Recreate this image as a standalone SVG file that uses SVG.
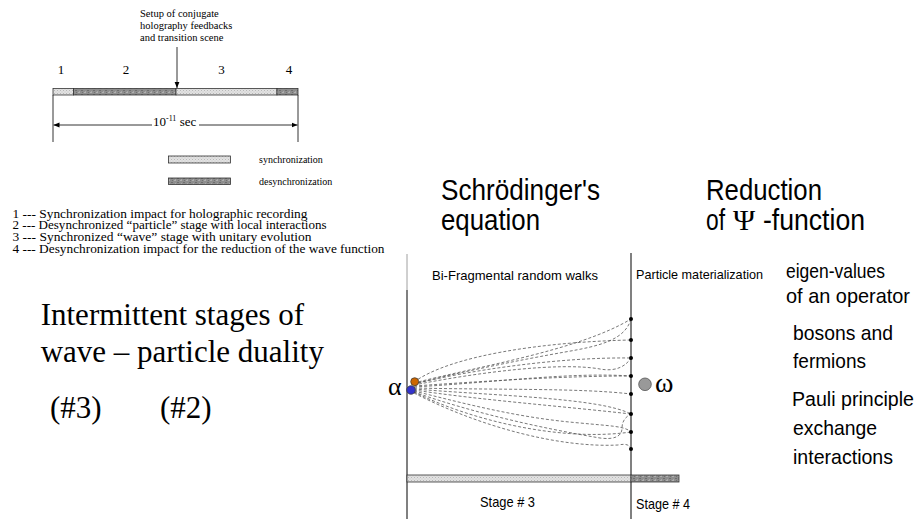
<svg xmlns="http://www.w3.org/2000/svg" width="918" height="519" viewBox="0 0 918 519">
<style>
.serif{font-family:"Liberation Serif","Times New Roman",serif;fill:#000}
.sans{font-family:"Liberation Sans Narrow","Liberation Sans",Arial,sans-serif;fill:#000}
.walk{fill:none;stroke:#555;stroke-width:0.8;stroke-dasharray:3 2}
.bar{stroke:#333;stroke-width:0.8}
.dot{fill:#000}
.ln{stroke:#000;stroke-width:0.8;fill:none}
</style>
<defs>
<pattern id="lt" width="3" height="3" patternUnits="userSpaceOnUse">
<rect width="3" height="3" fill="#e2e2e2"/>
<rect x="0" y="0" width="1" height="1" fill="#b8b8b8"/>
<rect x="1.5" y="1.5" width="1" height="1" fill="#c8c8c8"/>
</pattern>
<pattern id="dk" width="6" height="4" patternUnits="userSpaceOnUse">
<rect width="6" height="4" fill="#8e8e8e"/>
<rect x="0" y="0" width="2" height="1" fill="#b0b0b0"/>
<rect x="3" y="2" width="2" height="1" fill="#6e6e6e"/>
<rect x="4" y="0" width="1" height="1" fill="#707070"/>
<rect x="1" y="3" width="1" height="1" fill="#a8a8a8"/>
</pattern>
<marker id="ah" viewBox="0 0 10 10" refX="10" refY="5" markerWidth="6" markerHeight="6" orient="auto-start-reverse" markerUnits="userSpaceOnUse">
<path d="M0,1 L10,5 L0,9 z" fill="#000"/>
</marker>
</defs>

<!-- Timeline -->
<g id="timeline">
<text class="serif" font-size="10.5" x="140" y="17">Setup of conjugate</text>
<text class="serif" font-size="10.5" x="140" y="29">holography feedbacks</text>
<text class="serif" font-size="10.5" x="140" y="41">and transition scene</text>
<text class="serif" font-size="13" x="61" y="74" text-anchor="middle">1</text>
<text class="serif" font-size="13" x="126" y="74" text-anchor="middle">2</text>
<text class="serif" font-size="13" x="221.5" y="74" text-anchor="middle">3</text>
<text class="serif" font-size="13" x="289" y="74" text-anchor="middle">4</text>
<rect class="bar" x="53" y="88.5" width="20.5" height="6.5" fill="url(#lt)"/>
<rect class="bar" x="73.5" y="88.5" width="102.5" height="6.5" fill="url(#dk)"/>
<rect class="bar" x="176" y="88.5" width="101" height="6.5" fill="url(#lt)"/>
<rect class="bar" x="277" y="88.5" width="21" height="6.5" fill="url(#dk)"/>
<line class="ln" x1="53" y1="95" x2="53" y2="142"/>
<line class="ln" x1="298" y1="95" x2="298" y2="142"/>
<text class="serif" font-size="13" x="153" y="126">10<tspan font-size="8" dy="-5">-11</tspan><tspan dy="5"> sec</tspan></text>
</g>

<g id="timeline-arrows">
<line class="ln" x1="177" y1="47" x2="177" y2="88" marker-end="url(#ah)"/>
<line class="ln" x1="152" y1="125" x2="53.5" y2="125" marker-end="url(#ah)"/>
<line class="ln" x1="199" y1="125" x2="297.5" y2="125" marker-end="url(#ah)"/>
</g>

<g id="legend">
<rect class="bar" x="168.5" y="156" width="62" height="7" fill="url(#lt)"/>
<rect class="bar" x="168.5" y="178" width="62" height="6.5" fill="url(#dk)"/>
<text class="serif" font-size="10" x="259" y="163">synchronization</text>
<text class="serif" font-size="10" x="259" y="184.5">desynchronization</text>
<text class="serif" font-size="11.5" x="12.5" y="217.5" textLength="295" lengthAdjust="spacingAndGlyphs">1 --- Synchronization impact for holographic recording</text>
<text class="serif" font-size="11.5" x="12.5" y="229.2" textLength="314" lengthAdjust="spacingAndGlyphs">2 --- Desynchronized “particle” stage with local interactions</text>
<text class="serif" font-size="11.5" x="12.5" y="240.9" textLength="299" lengthAdjust="spacingAndGlyphs">3 --- Synchronized “wave” stage with unitary evolution</text>
<text class="serif" font-size="11.5" x="12.5" y="252.6" textLength="372" lengthAdjust="spacingAndGlyphs">4 --- Desynchronization impact for the reduction of the wave function</text>
</g>

<g id="title">
<text class="serif" font-size="31" x="40.7" y="325">Intermittent stages of</text>
<text class="serif" font-size="31" x="40.7" y="362">wave – particle duality</text>
<text class="serif" font-size="31" x="50" y="418">(#3)</text>
<text class="serif" font-size="31" x="160" y="418">(#2)</text>
</g>

<g id="headings">
<text class="sans" font-size="30" x="441" y="200" textLength="159" lengthAdjust="spacingAndGlyphs">Schrödinger's</text>
<text class="sans" font-size="30" x="441" y="230" textLength="99" lengthAdjust="spacingAndGlyphs">equation</text>
<text class="sans" font-size="30" x="706" y="200" textLength="116" lengthAdjust="spacingAndGlyphs">Reduction</text>
<text class="sans" font-size="30" x="706" y="230" textLength="19" lengthAdjust="spacingAndGlyphs">of</text>
<text class="serif" font-size="30" x="733" y="230">Ψ</text>
<text class="sans" font-size="30" x="763" y="230" textLength="102" lengthAdjust="spacingAndGlyphs">-function</text>
</g>

<g id="properties">
<text class="sans" font-size="21" x="786" y="278" textLength="99" lengthAdjust="spacingAndGlyphs">eigen-values</text>
<text class="sans" font-size="21" x="786" y="303" textLength="124" lengthAdjust="spacingAndGlyphs">of an operator</text>
<text class="sans" font-size="21" x="793" y="340" textLength="100" lengthAdjust="spacingAndGlyphs">bosons and</text>
<text class="sans" font-size="21" x="793" y="368" textLength="73" lengthAdjust="spacingAndGlyphs">fermions</text>
<text class="sans" font-size="20" x="792" y="406" textLength="122" lengthAdjust="spacingAndGlyphs">Pauli principle</text>
<text class="sans" font-size="21" x="793" y="435" textLength="84" lengthAdjust="spacingAndGlyphs">exchange</text>
<text class="sans" font-size="21" x="793" y="464" textLength="100" lengthAdjust="spacingAndGlyphs">interactions</text>
</g>

<!-- Walks diagram -->
<g id="frame">
<line x1="407" y1="254" x2="407" y2="290" stroke="#888" stroke-width="0.8"/>
<line x1="407" y1="290" x2="407" y2="519" stroke="#808080" stroke-width="2"/>
<line x1="631" y1="253" x2="631" y2="519" stroke="#808080" stroke-width="2"/>
<text class="sans" font-size="13" x="432" y="280" textLength="166" lengthAdjust="spacingAndGlyphs">Bi-Fragmental random walks</text>
<text class="sans" font-size="13" x="636" y="279" textLength="127" lengthAdjust="spacingAndGlyphs">Particle materialization</text>
<rect class="bar" x="407" y="475" width="224" height="7" fill="url(#lt)"/>
<rect class="bar" x="631" y="475" width="48" height="7" fill="url(#dk)"/>
<text class="sans" font-size="15" x="480" y="507" textLength="55" lengthAdjust="spacingAndGlyphs">Stage # 3</text>
<text class="sans" font-size="15" x="636" y="509" textLength="54" lengthAdjust="spacingAndGlyphs">Stage # 4</text>
</g>

<g id="connectors">
<path class="walk" d="M414,382 C450,356 540,342 631,340"/>
<path class="walk" d="M414,383 C480,366 580,350 631,319"/>
<path class="walk" d="M631,319 C625,340 600,346 565,352 C520,360 460,372 414,384"/>
<path class="walk" d="M414,384 C470,370 560,357 631,358"/>
<path class="walk" d="M414,385 C480,372 560,362 600,369 C616,372 626,366 631,358"/>
<path class="walk" d="M414,386 C500,380 570,376 631,376"/>
<path class="walk" d="M414,387 C500,382 570,372 631,376"/>
<path class="walk" d="M414,388 C500,390 580,388 631,394"/>
<path class="walk" d="M414,389 C500,396 600,398 631,414"/>
<path class="walk" d="M414,390 C480,400 560,406 631,414"/>
<path class="walk" d="M414,391 C470,405 520,418 580,423 C610,426 625,426 631,432"/>
<path class="walk" d="M414,392 C470,420 560,442 631,432"/>
<path class="walk" d="M414,393 C480,427 560,448 618,445 C628,443 630,446 631,449"/>
<path class="walk" d="M414,392 C470,412 540,428 600,438 C615,440 622,436 622,428 C622,420 627,416 631,414"/>
</g>

<g id="dots">
<circle class="dot" cx="631" cy="319" r="2"/>
<circle class="dot" cx="631" cy="340" r="2"/>
<circle class="dot" cx="631" cy="358" r="2"/>
<circle class="dot" cx="631" cy="376" r="2"/>
<circle class="dot" cx="631" cy="394" r="2"/>
<circle class="dot" cx="631" cy="414" r="2"/>
<circle class="dot" cx="631" cy="432" r="2"/>
<circle class="dot" cx="631" cy="449" r="2"/>
</g>

<g id="alpha">
<text class="serif" font-size="26" x="388" y="395">α</text>
<circle cx="414.7" cy="381.7" r="4" fill="#cc6600" stroke="#333" stroke-width="0.7"/>
<circle cx="411" cy="390" r="4.3" fill="#3333cc" stroke="#333" stroke-width="0.7"/>
</g>

<g id="omega">
<circle cx="645" cy="384.3" r="6.3" fill="#999" stroke="#555" stroke-width="0.8"/>
<text class="serif" font-size="28" x="655" y="392">ω</text>
</g>
</svg>
